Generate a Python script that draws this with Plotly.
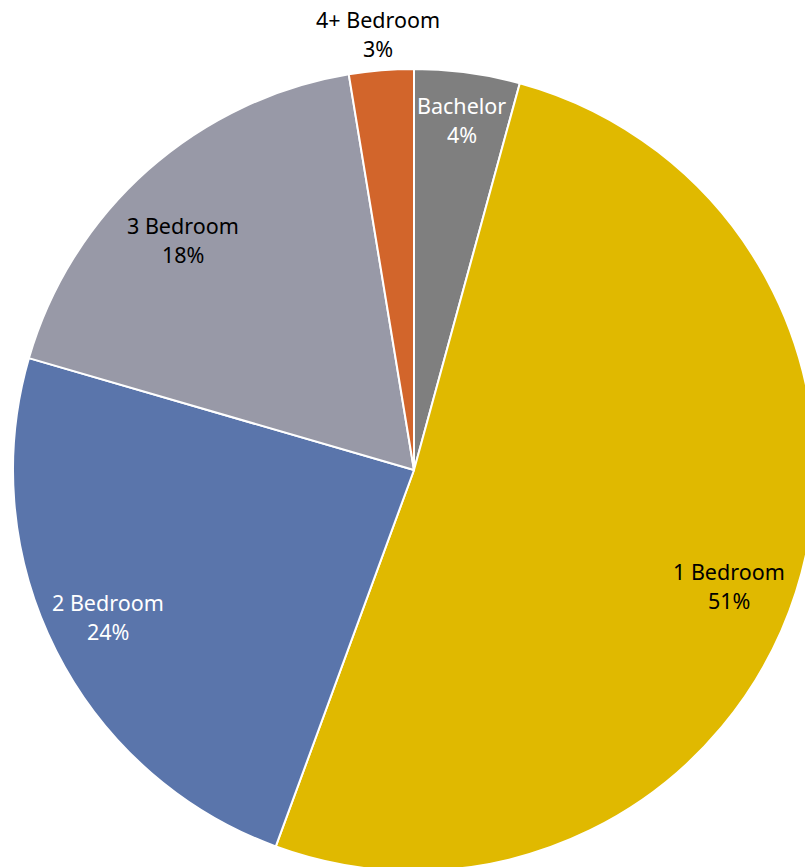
import math
import plotly.graph_objects as go

# Share of units by bedroom type (percent)
unit_types = ["Bachelor", "1 Bedroom", "2 Bedroom", "3 Bedroom", "4+ Bedroom"]
unit_share = [4.25, 51.35, 23.9, 17.9, 2.6]

slice_colors = ["#7f7f7f", "#e0b900", "#5a75ab", "#9899a7", "#d2652b"]
label_colors = ["white", "black", "white", "black", "black"]
# label placement: fraction of radius, and angular nudge (degrees) from slice middle
label_radius = [0.881, 0.837, 0.847, 0.813, 1.09]
label_nudge = [0.15, 2.5, 1.1, -3.5, 0.0]

FONT = "Noto Sans"
FONT_SIZE = 21.5

# Figure is a bit wider/taller than the window so the pie runs off the right and bottom edges
W, H = 830, 890
R = 401
CX, CY = 414, 470
margin = dict(l=CX - R, r=W - (CX + R), t=CY - R, b=H - (CY + R))

fig = go.Figure(
    go.Pie(
        labels=unit_types,
        values=unit_share,
        sort=False,
        direction="clockwise",
        rotation=0,
        marker=dict(colors=slice_colors, line=dict(color="white", width=2)),
        textinfo="none",
        hoverinfo="label+percent",
        showlegend=False,
    )
)

total = sum(unit_share)
cum = 0.0
annotations = []
for name, v, col, fr, nudge in zip(unit_types, unit_share, label_colors, label_radius, label_nudge):
    start = cum / total * 360
    cum += v
    stop = cum / total * 360
    theta = math.radians((start + stop) / 2 + nudge)
    px = 0.5 + 0.5 * fr * math.sin(theta)
    py = 0.5 + 0.5 * fr * math.cos(theta)
    pct = f"{round(v / total * 100)}%"
    for txt, shift in ((name, 14.5), (pct, -14.5)):
        annotations.append(
            dict(
                x=px, y=py, xref="paper", yref="paper",
                text=txt, showarrow=False, yshift=shift,
                xanchor="center", yanchor="middle",
                font=dict(family=FONT, size=FONT_SIZE, color=col),
            )
        )

fig.update_layout(
    width=W,
    height=H,
    autosize=False,
    margin=margin,
    paper_bgcolor="white",
    plot_bgcolor="white",
    font=dict(family=FONT, size=FONT_SIZE),
    annotations=annotations,
)

fig.write_html(
    "out.html",
    post_script=(
        "document.body.style.margin='0';"
        "document.body.style.overflow='hidden';"
        "document.documentElement.style.overflow='hidden';"
    ),
)
